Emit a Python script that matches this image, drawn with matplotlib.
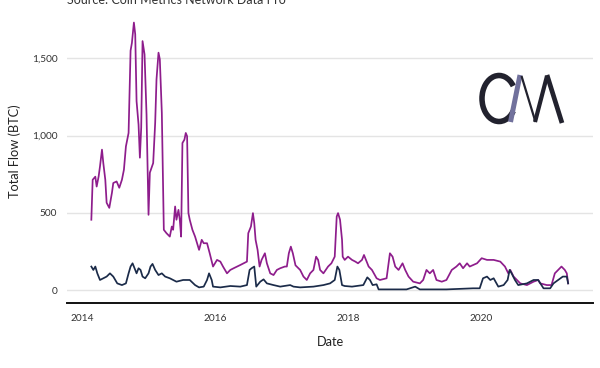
import matplotlib
matplotlib.use("Agg")
import matplotlib.pyplot as plt
from matplotlib.lines import Line2D
from matplotlib.patches import Arc
from matplotlib.ticker import FuncFormatter

plt.rcParams['font.family'] = ['Lato', 'DejaVu Sans']

# ---- data (decimal year, BTC) ----
purple_t = [2014.14, 2014.16, 2014.20, 2014.22, 2014.25, 2014.27, 2014.30, 2014.32, 2014.35, 2014.37,
            2014.41, 2014.45, 2014.47, 2014.52, 2014.56, 2014.60, 2014.63, 2014.66, 2014.70, 2014.71,
            2014.73, 2014.75, 2014.78, 2014.80, 2014.82, 2014.85, 2014.87, 2014.89, 2014.91, 2014.94,
            2014.97, 2015.00, 2015.02, 2015.07, 2015.10, 2015.12, 2015.15, 2015.17, 2015.20, 2015.23,
            2015.27, 2015.32, 2015.35, 2015.37, 2015.40, 2015.42, 2015.45, 2015.47, 2015.49, 2015.51,
            2015.54, 2015.56, 2015.58, 2015.60, 2015.62, 2015.66, 2015.70, 2015.73, 2015.76, 2015.80,
            2015.83, 2015.88, 2015.92, 2015.97, 2016.03, 2016.08, 2016.12, 2016.18, 2016.23, 2016.28,
            2016.38, 2016.48, 2016.50, 2016.54, 2016.57, 2016.59, 2016.61, 2016.64, 2016.67, 2016.70,
            2016.75, 2016.78, 2016.83, 2016.88, 2016.93, 2016.98, 2017.05, 2017.08, 2017.11, 2017.14,
            2017.17, 2017.21, 2017.28, 2017.33, 2017.38, 2017.43, 2017.48, 2017.52, 2017.55, 2017.58,
            2017.63, 2017.70, 2017.75, 2017.80, 2017.83, 2017.85, 2017.88, 2017.91, 2017.92, 2017.95,
            2018.00, 2018.06, 2018.11, 2018.15, 2018.21, 2018.24, 2018.27, 2018.31, 2018.36, 2018.43,
            2018.48, 2018.58, 2018.63, 2018.67, 2018.71, 2018.76, 2018.82, 2018.86, 2018.91, 2018.98,
            2019.08, 2019.13, 2019.18, 2019.23, 2019.28, 2019.33, 2019.41, 2019.48, 2019.56, 2019.63,
            2019.68, 2019.73, 2019.79, 2019.83, 2019.94, 2020.01, 2020.09, 2020.19, 2020.29, 2020.36,
            2020.41, 2020.44, 2020.49, 2020.54, 2020.59, 2020.69, 2020.79, 2020.86, 2020.89, 2020.99,
            2021.06, 2021.11, 2021.16, 2021.21, 2021.26, 2021.29, 2021.31]
purple_v = [455, 714, 734, 670, 736, 800, 909, 822, 714, 565,
            532, 630, 693, 703, 662, 714, 779, 930, 1017, 1190,
            1550, 1600, 1732, 1656, 1223, 1071, 857, 1052, 1612, 1526,
            1136, 487, 760, 822, 1082, 1364, 1537, 1494, 1147, 390,
            368, 346, 411, 390, 541, 455, 519, 455, 346, 952,
            974, 1017, 996, 498, 455, 390, 346, 303, 260, 325,
            303, 303, 238, 152, 195, 184, 152, 108, 130, 141,
            162, 184, 368, 411, 498, 433, 325, 260, 152, 195,
            238, 173, 108, 97, 130, 141, 152, 152, 238, 281,
            238, 160, 130, 87, 65, 108, 130, 216, 195, 130,
            108, 152, 173, 216, 476, 498, 455, 325, 216, 195,
            216, 195, 184, 173, 195, 227, 195, 152, 130, 76,
            65, 76, 238, 216, 152, 130, 173, 130, 87, 54,
            43, 65, 130, 108, 130, 65, 54, 65, 130, 152,
            173, 141, 173, 152, 173, 206, 195, 195, 184, 152,
            108, 130, 87, 65, 43, 32, 54, 65, 43, 32,
            32, 108, 130, 152, 130, 108, 43]

navy_t = [2014.14, 2014.17, 2014.20, 2014.23, 2014.27, 2014.32, 2014.37, 2014.42, 2014.47, 2014.53,
          2014.60, 2014.66, 2014.70, 2014.73, 2014.76, 2014.80, 2014.82, 2014.85, 2014.88, 2014.91,
          2014.95, 2015.00, 2015.03, 2015.06, 2015.10, 2015.15, 2015.20, 2015.25, 2015.32, 2015.42,
          2015.52, 2015.62, 2015.70, 2015.76, 2015.83, 2015.88, 2015.91, 2015.95, 2015.97, 2016.08,
          2016.23, 2016.38, 2016.48, 2016.52, 2016.55, 2016.59, 2016.62, 2016.68, 2016.73, 2016.78,
          2016.88, 2016.98, 2017.13, 2017.18, 2017.28, 2017.48, 2017.63, 2017.73, 2017.80, 2017.84,
          2017.87, 2017.91, 2017.95, 2018.06, 2018.23, 2018.29, 2018.33, 2018.37, 2018.43, 2018.46,
          2018.63, 2018.88, 2019.01, 2019.08, 2019.48, 2019.88, 2019.98, 2020.03, 2020.09, 2020.14,
          2020.19, 2020.26, 2020.34, 2020.40, 2020.43, 2020.46, 2020.51, 2020.56, 2020.69, 2020.79,
          2020.86, 2020.94, 2021.04, 2021.09, 2021.16, 2021.23, 2021.29, 2021.31]
navy_v = [152, 130, 152, 108, 65, 76, 87, 108, 87, 43,
          32, 43, 108, 152, 173, 130, 108, 141, 130, 87,
          76, 108, 152, 169, 130, 97, 108, 87, 76, 54,
          65, 65, 32, 17, 22, 65, 108, 65, 22, 17,
          26, 22, 32, 130, 141, 152, 22, 54, 69, 43,
          32, 22, 32, 22, 17, 22, 32, 43, 65, 152,
          130, 32, 26, 22, 32, 82, 65, 32, 37, 4,
          4, 4, 22, 4, 4, 11, 11, 76, 87, 65,
          76, 22, 32, 65, 130, 108, 65, 32, 43, 65,
          65, 11, 11, 43, 65, 87, 87, 43]

y_ticks = [0, 500, 1000, 1500]
x_ticks = [2014, 2016, 2018, 2020]

W, H = 600, 368
fig = plt.figure(figsize=(6, 3.68), dpi=100)
ax = fig.add_axes([67 / W, 1 - 303.3 / H, (593 - 67) / W, 303.3 / H])

ax.plot(purple_t, purple_v, color='#8e1d8c', lw=1.25, zorder=3)
ax.plot(navy_t, navy_v, color='#1b2b49', lw=1.25, zorder=4)

ax.set_xlim(2013.774, 2021.684)
ax.set_ylim(-86, 1878)
ax.set_yticks(y_ticks)
ax.set_xticks(x_ticks)
ax.yaxis.set_major_formatter(FuncFormatter(lambda v, p: f"{int(v):,}"))
ax.grid(axis='y', color='#e4e4e4', lw=1.0)
ax.grid(axis='x', visible=False)
for s in ['top', 'right', 'left']:
    ax.spines[s].set_visible(False)
ax.spines['bottom'].set_color('#111111')
ax.spines['bottom'].set_linewidth(1.4)
ax.tick_params(axis='both', length=0, labelsize=7.3, colors='#333333')
ax.tick_params(axis='y', pad=7)
ax.tick_params(axis='x', pad=8)
ax.set_xlabel('Date', fontsize=9.2, color='#222222', labelpad=9)
ax.set_ylabel('Total Flow (BTC)', fontsize=9.2, color='#222222', labelpad=8)
ax.set_axisbelow(True)

fig.text(67 / W, 1 - 4 / H, 'Source: Coin Metrics Network Data Pro', fontsize=9,
         color='#333333', va='baseline', ha='left')

# ---- logo ----
def px(x, y):
    return x / W, 1 - y / H

logo_dark = '#22222e'
cx, cy = px(499, 98.5)
fig.add_artist(Arc((cx, cy), 34 / W, 46 / H, theta1=55, theta2=305,
                   transform=fig.transFigure, color=logo_dark, lw=4.0))
def seg(p0, p1, color, lw):
    a, b = px(*p0), px(*p1)
    fig.add_artist(Line2D([a[0], b[0]], [a[1], b[1]], transform=fig.transFigure,
                          color=color, lw=lw, solid_capstyle='butt'))
seg((520, 75), (510.5, 122), '#71719c', 3.6)
seg((521.5, 76), (535.5, 122), logo_dark, 1.6)
seg((535, 122), (547, 76), logo_dark, 3.0)
seg((547, 75), (562, 123), logo_dark, 3.4)

fig.savefig('out.png', dpi=100, facecolor='white')
